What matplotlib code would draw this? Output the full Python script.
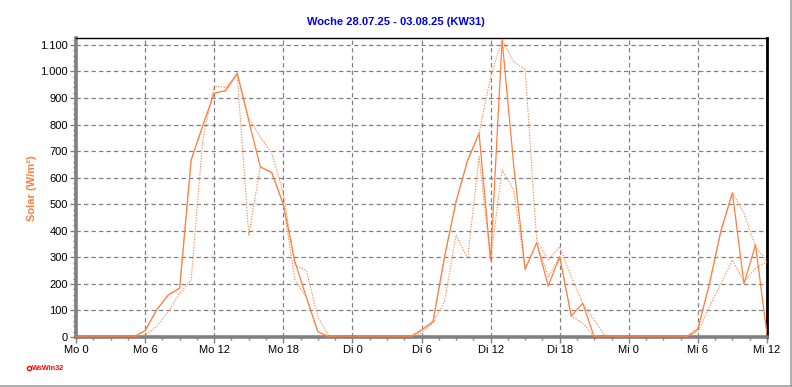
import matplotlib
matplotlib.use('Agg')
import matplotlib.pyplot as plt
from matplotlib.ticker import MultipleLocator, FuncFormatter
from matplotlib.lines import Line2D

# ---- data (hourly, Mo 0 .. Mi 12) ----
hours = list(range(61))

solar_main = [0, 0, 0, 0, 0, 0, 24, 102, 158, 184,
              667, 795, 918, 928, 993, 815, 641, 619, 500, 285,
              150, 20, 0, 0, 0, 0, 0, 0, 0, 0,
              26, 58, 302, 510, 665, 767, 290, 1119, 650, 255,
              355, 192, 302, 79, 127, 0, 0, 0, 0, 0,
              0, 0, 0, 0, 30, 200, 400, 543, 200, 347,
              10]

solar_dot_a = [0, 0, 0, 0, 0, 0, 24, 102, 158, 184,
               667, 795, 918, 928, 993, 824, 754, 692, 541, 271,
               250, 76, 0, 0, 0, 0, 0, 0, 0, 0,
               26, 58, 302, 510, 665, 767, 980, 1119, 1037, 1008,
               365, 290, 340, 227, 127, 64, 0, 0, 0, 0,
               0, 0, 0, 0, 30, 200, 400, 543, 466, 340,
               284]

solar_dot_b = [0, 0, 0, 0, 0, 0, 8, 39, 95, 165,
               215, 740, 945, 940, 987, 384, 641, 619, 500, 215,
               150, 20, 0, 0, 0, 0, 0, 0, 0, 0,
               15, 52, 133, 384, 296, 679, 290, 629, 554, 255,
               355, 227, 302, 79, 52, 0, 0, 0, 0, 0,
               0, 0, 0, 0, 20, 114, 202, 290, 208, 259,
               284]

tick_hours = [0, 6, 12, 18, 24, 30, 36, 42, 48, 54, 60]
tick_labels = ["Mo 0", "Mo 6", "Mo 12", "Mo 18", "Di 0", "Di 6",
               "Di 12", "Di 18", "Mi 0", "Mi 6", "Mi 12"]
title_text = "Woche 28.07.25 - 03.08.25 (KW31)"
ylabel_text = "Solar (W/m²)"
logo_text = "WsWin32"

plt.rcParams['font.family'] = ['Liberation Sans', 'DejaVu Sans']

W, H = 792, 387
fig = plt.figure(figsize=(W / 100, H / 100), dpi=100)
fig.patch.set_facecolor('white')

x0, x1, ytop, ybot = 76, 767, 38, 337
ax = fig.add_axes([x0 / W, 1 - ybot / H, (x1 - x0) / W, (ybot - ytop) / H])

orange = '#FF7F3F'
ax.plot(hours, solar_dot_a, color=orange, lw=0.75, linestyle=(0, (1.2, 1.4)), zorder=3)
ax.plot(hours, solar_dot_b, color=orange, lw=0.75, linestyle=(0, (1.2, 1.4)), zorder=3)
ax.plot(hours, solar_main, color=orange, lw=0.9, zorder=4)

ax.set_xlim(0, 60)
ax.set_ylim(0, 1126)
ax.set_xticks(tick_hours)
ax.set_xticklabels(tick_labels)
ax.xaxis.set_minor_locator(MultipleLocator(1.5))
ax.yaxis.set_major_locator(MultipleLocator(100))
ax.yaxis.set_minor_locator(MultipleLocator(20))
ax.yaxis.set_major_formatter(FuncFormatter(lambda v, p: f"{int(round(v)):,}".replace(',', '.')))

ax.set_axisbelow(True)
ax.grid(which='major', color='#808080', linestyle=(0, (3.5, 2.5)), lw=0.9)

grey = '#808080'
ax.spines['left'].set_color(grey)
ax.spines['left'].set_linewidth(2.6)
ax.spines['bottom'].set_color(grey)
ax.spines['bottom'].set_linewidth(2.6)
ax.spines['right'].set_color('black')
ax.spines['right'].set_linewidth(2.0)
ax.spines['top'].set_color('black')
ax.spines['top'].set_linewidth(1.0)

ax.tick_params(which='major', direction='out', length=4, width=1, color=grey,
               labelsize=8, labelcolor='black', pad=2)
ax.tick_params(which='minor', direction='out', length=2.5, width=1, color=grey)

fig.text(396 / W, 1 - 22 / H, title_text, color='#0000F0', fontsize=8,
         fontweight='bold', ha='center', va='center')
fig.text(32 / W, 1 - 188 / H, ylabel_text, color=orange, fontsize=8,
         fontweight='bold', rotation=90, ha='center', va='center')

# logo
fig.add_artist(Line2D([29 / W], [1 - 368 / H], marker='o', markersize=3,
                      markerfacecolor='none', markeredgecolor='red',
                      markeredgewidth=1, transform=fig.transFigure))
fig.text(32 / W, 1 - 368 / H, logo_text, color='red', fontsize=5.2,
         fontweight='bold', ha='left', va='center')

# frame shadow lines
fig.add_artist(Line2D([790.5 / W, 790.5 / W], [1 - 385.5 / H, 1.0],
                      color='#A0A0A0', lw=1.2, transform=fig.transFigure))
fig.add_artist(Line2D([0, 790.5 / W], [1 - 385.5 / H, 1 - 385.5 / H],
                      color='#A0A0A0', lw=1.2, transform=fig.transFigure))

fig.savefig('out.png', dpi=100)
